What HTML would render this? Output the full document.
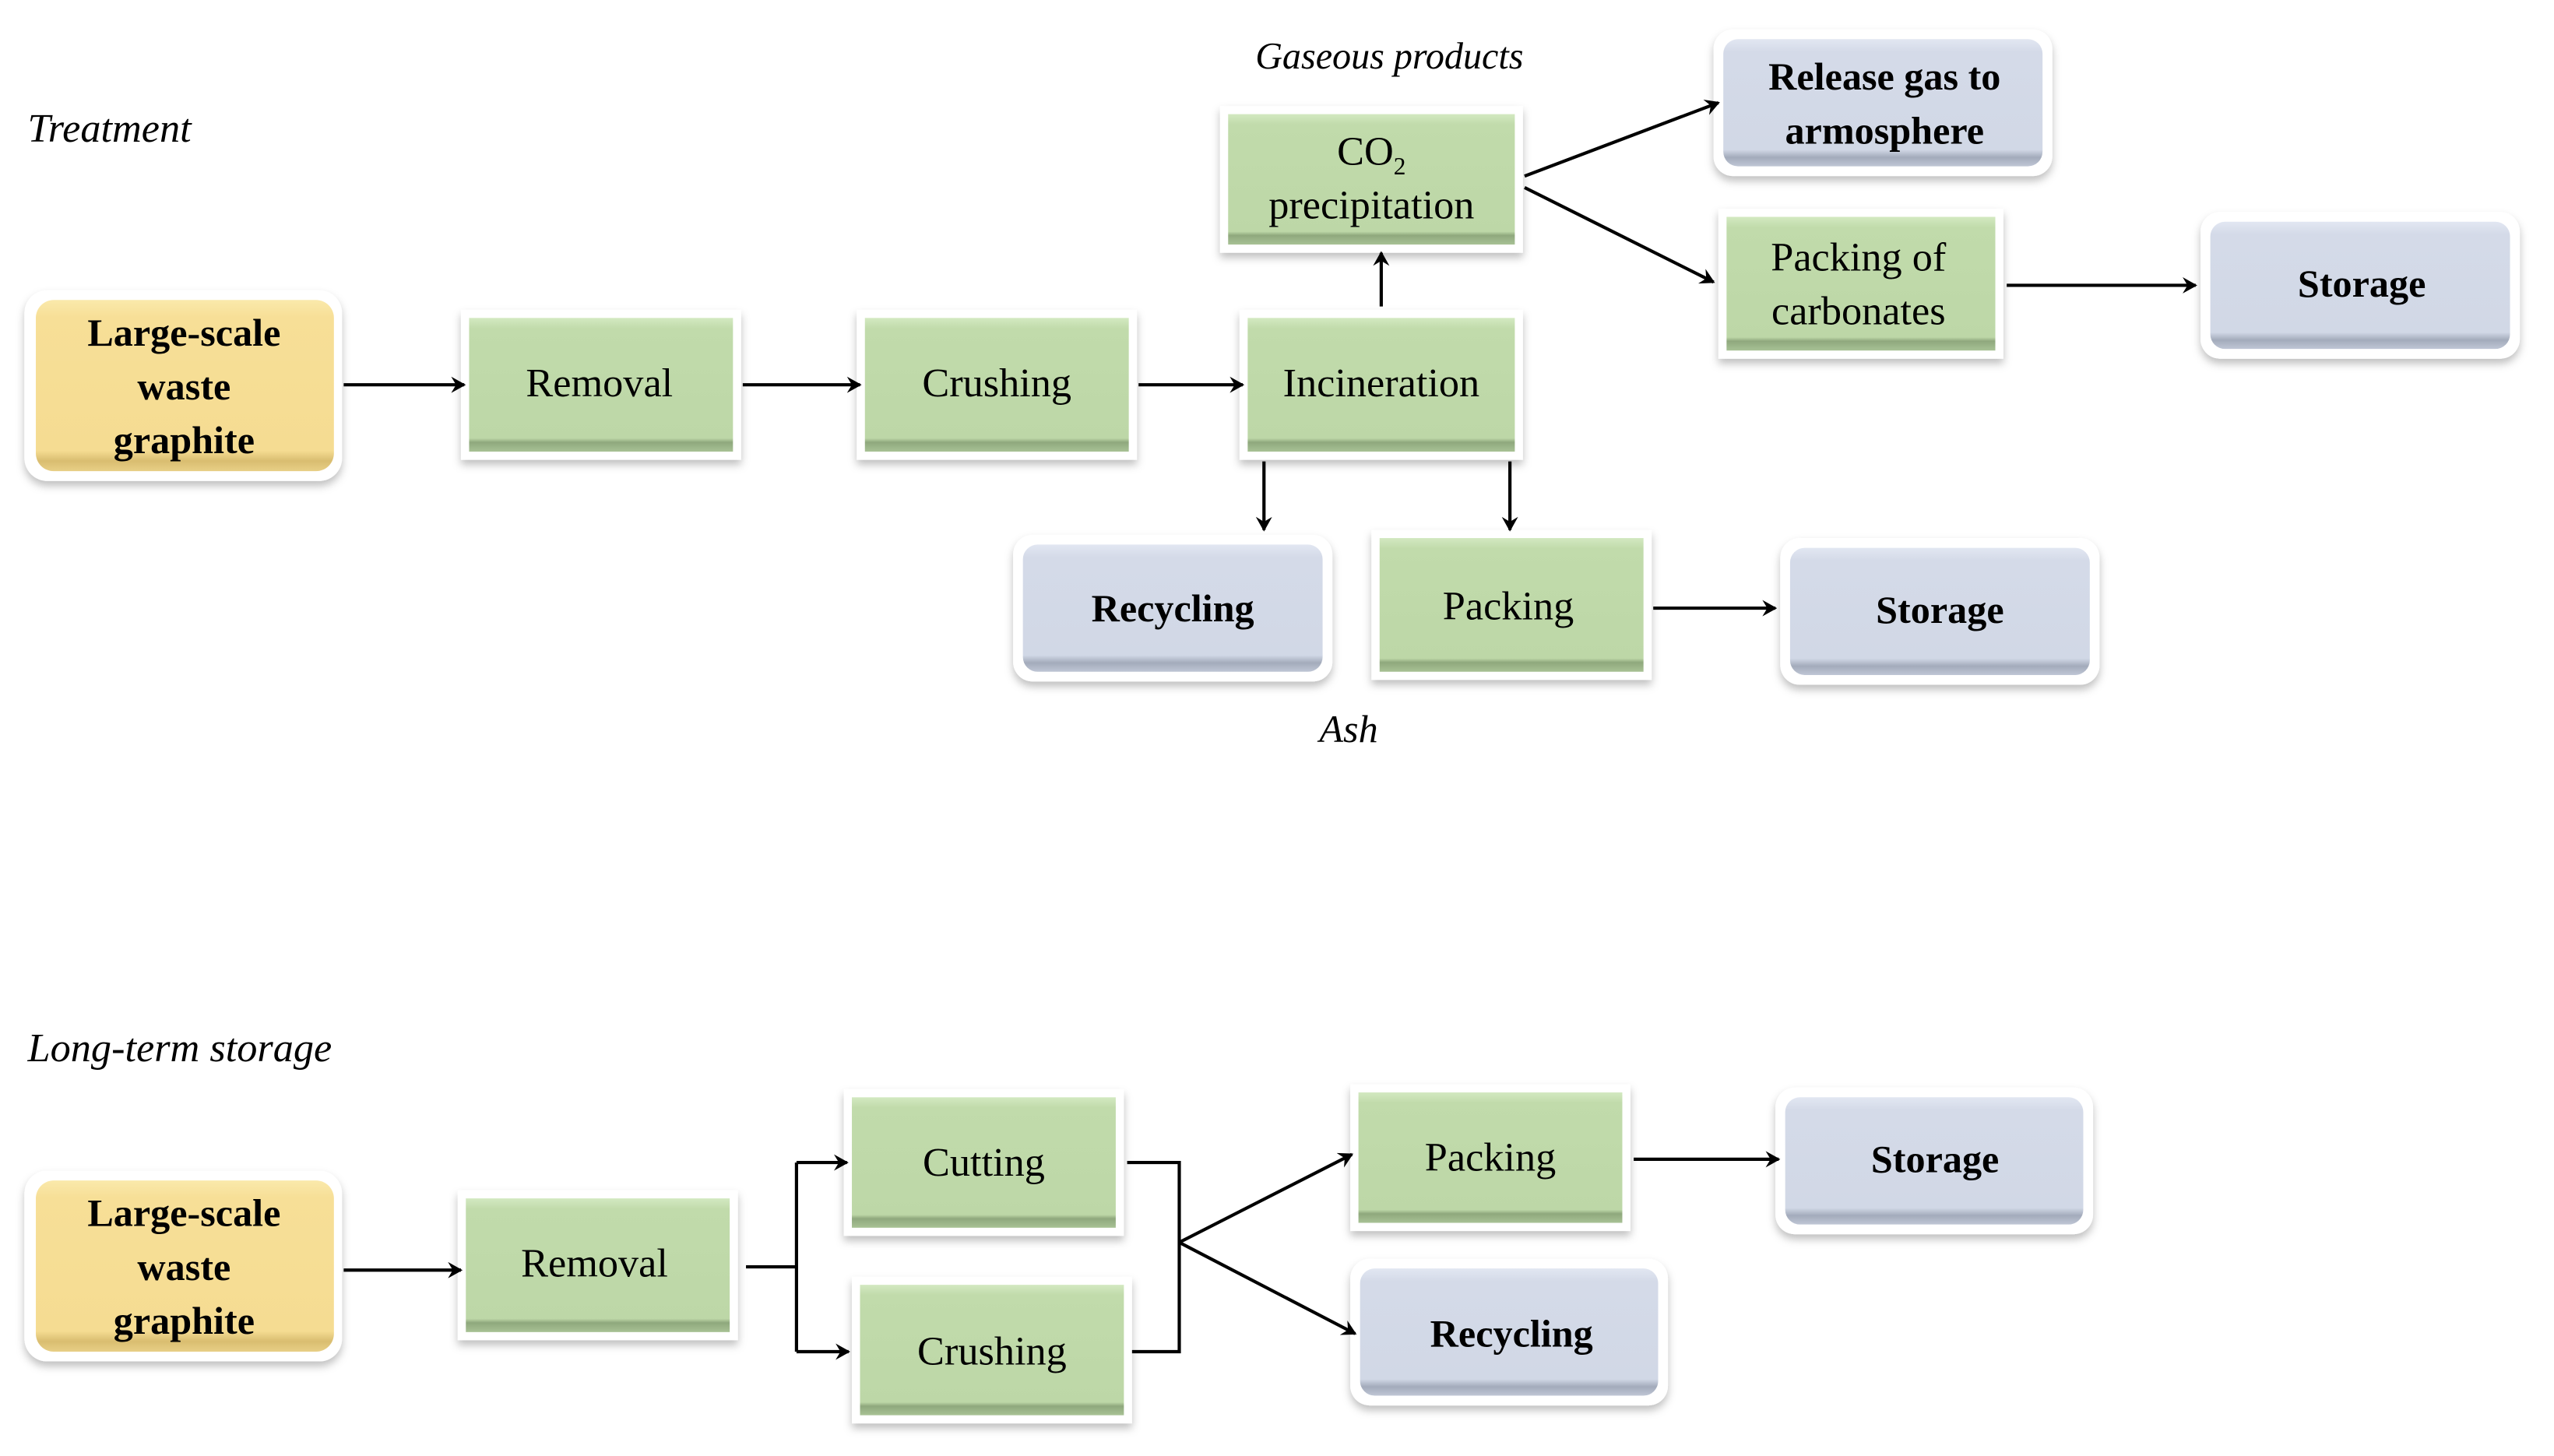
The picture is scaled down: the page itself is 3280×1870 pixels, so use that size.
<!DOCTYPE html>
<html><head><meta charset="utf-8"><style>
html,body{margin:0;padding:0;background:#fff;}
svg{display:block;}
text{font-family:"Liberation Serif",serif;}
</style></head><body>
<svg width="3280" height="1870" viewBox="0 0 1568 893" preserveAspectRatio="none" xmlns="http://www.w3.org/2000/svg">
<defs>
<linearGradient id="g" x1="0" y1="0" x2="0" y2="1"><stop offset="0" stop-color="#d3e9c1"/><stop offset="0.08" stop-color="#c1dbab"/><stop offset="0.9" stop-color="#bdd7a7"/><stop offset="0.93" stop-color="#8fa87d"/><stop offset="1" stop-color="#a8c295"/></linearGradient>
<linearGradient id="y" x1="0" y1="0" x2="0" y2="1"><stop offset="0" stop-color="#fae9ab"/><stop offset="0.1" stop-color="#f7df97"/><stop offset="0.88" stop-color="#f5dc92"/><stop offset="0.94" stop-color="#d9bd70"/><stop offset="1" stop-color="#e8cf86"/></linearGradient>
<linearGradient id="b" x1="0" y1="0" x2="0" y2="1"><stop offset="0" stop-color="#e2e7f2"/><stop offset="0.1" stop-color="#d4dae8"/><stop offset="0.87" stop-color="#d1d8e6"/><stop offset="0.93" stop-color="#a3abbb"/><stop offset="1" stop-color="#bfc6d5"/></linearGradient>
<filter id="s" x="-10%" y="-10%" width="120%" height="130%"><feDropShadow dx="0" dy="3" stdDeviation="2.5" flood-color="#000" flood-opacity="0.25"/></filter>
<marker id="a" markerWidth="10" markerHeight="10" refX="9" refY="5" orient="auto" markerUnits="userSpaceOnUse"><path d="M1,0 L10,5 L1,10 L4,5 Z" fill="#000"/></marker>
</defs>

<g font-size="25" text-anchor="middle">
<text x="17" y="87" font-style="italic" text-anchor="start" font-size="25">Treatment</text>
<text x="853" y="42" font-style="italic" font-size="23">Gaseous products</text>
<text x="828" y="455" font-style="italic" font-size="24">Ash</text>

<rect x="15" y="178" width="195" height="117" rx="14" fill="#fff" filter="url(#s)"/>
<rect x="22" y="184" width="183" height="105" rx="11" fill="url(#y)"/>
<g font-weight="bold" font-size="24"><text x="113" y="212">Large-scale</text><text x="113" y="245">waste</text><text x="113" y="278">graphite</text></g>

<rect x="283" y="190" width="172" height="92" fill="#fff" filter="url(#s)"/><rect x="288" y="195" width="162" height="82" fill="url(#g)"/>
<text x="368" y="243">Removal</text>
<rect x="526" y="190" width="172" height="92" fill="#fff" filter="url(#s)"/><rect x="531" y="195" width="162" height="82" fill="url(#g)"/>
<text x="612" y="243">Crushing</text>
<rect x="761" y="190" width="174" height="92" fill="#fff" filter="url(#s)"/><rect x="766" y="195" width="164" height="82" fill="url(#g)"/>
<text x="848" y="243">Incineration</text>
<rect x="749" y="65" width="186" height="90" fill="#fff" filter="url(#s)"/><rect x="754" y="70" width="176" height="80" fill="url(#g)"/>
<text x="842" y="101">CO<tspan font-size="15" dy="6">2</tspan></text><text x="842" y="134">precipitation</text>

<rect x="1052" y="18" width="208" height="90" rx="12" fill="#fff" filter="url(#s)"/><rect x="1058" y="24" width="196" height="78" rx="9" fill="url(#b)"/>
<g font-weight="bold" font-size="24"><text x="1157" y="55">Release gas to</text><text x="1157" y="88">armosphere</text></g>
<rect x="1055" y="128" width="175" height="92" fill="#fff" filter="url(#s)"/><rect x="1060" y="133" width="165" height="82" fill="url(#g)"/>
<text x="1141" y="166">Packing of</text><text x="1141" y="199">carbonates</text>
<rect x="1351" y="130" width="196" height="90" rx="12" fill="#fff" filter="url(#s)"/><rect x="1357" y="136" width="184" height="78" rx="9" fill="url(#b)"/>
<text x="1450" y="182" font-weight="bold" font-size="24">Storage</text>

<rect x="622" y="328" width="196" height="90" rx="12" fill="#fff" filter="url(#s)"/><rect x="628" y="334" width="184" height="78" rx="9" fill="url(#b)"/>
<text x="720" y="381" font-weight="bold" font-size="24">Recycling</text>
<rect x="842" y="325" width="172" height="92" fill="#fff" filter="url(#s)"/><rect x="847" y="330" width="162" height="82" fill="url(#g)"/>
<text x="926" y="380">Packing</text>
<rect x="1093" y="330" width="196" height="90" rx="12" fill="#fff" filter="url(#s)"/><rect x="1099" y="336" width="184" height="78" rx="9" fill="url(#b)"/>
<text x="1191" y="382" font-weight="bold" font-size="24">Storage</text>

<g stroke="#000" stroke-width="2" fill="none" marker-end="url(#a)">
<path d="M211,236 H285"/><path d="M456,236 H528"/><path d="M699,236 H763"/>
<path d="M848,188 V155"/><path d="M776,283 V325"/><path d="M927,283 V325"/>
<path d="M936,108 L1055,63"/><path d="M936,115 L1052,173"/>
<path d="M1232,175 H1348"/><path d="M1015,373 H1090"/>
</g>

<text x="17" y="651" font-style="italic" text-anchor="start" font-size="25">Long-term storage</text>
<rect x="15" y="718" width="195" height="117" rx="14" fill="#fff" filter="url(#s)"/>
<rect x="22" y="724" width="183" height="105" rx="11" fill="url(#y)"/>
<g font-weight="bold" font-size="24"><text x="113" y="752">Large-scale</text><text x="113" y="785">waste</text><text x="113" y="818">graphite</text></g>
<rect x="281" y="730" width="172" height="92" fill="#fff" filter="url(#s)"/><rect x="286" y="735" width="162" height="82" fill="url(#g)"/>
<text x="365" y="783">Removal</text>
<rect x="518" y="668" width="172" height="90" fill="#fff" filter="url(#s)"/><rect x="523" y="673" width="162" height="80" fill="url(#g)"/>
<text x="604" y="721">Cutting</text>
<rect x="523" y="783" width="172" height="90" fill="#fff" filter="url(#s)"/><rect x="528" y="788" width="162" height="80" fill="url(#g)"/>
<text x="609" y="837">Crushing</text>
<rect x="829" y="665" width="172" height="90" fill="#fff" filter="url(#s)"/><rect x="834" y="670" width="162" height="80" fill="url(#g)"/>
<text x="915" y="718">Packing</text>
<rect x="829" y="772" width="195" height="90" rx="12" fill="#fff" filter="url(#s)"/><rect x="835" y="778" width="183" height="78" rx="9" fill="url(#b)"/>
<text x="928" y="826" font-weight="bold" font-size="24">Recycling</text>
<rect x="1090" y="667" width="195" height="90" rx="12" fill="#fff" filter="url(#s)"/><rect x="1096" y="673" width="183" height="78" rx="9" fill="url(#b)"/>
<text x="1188" y="719" font-weight="bold" font-size="24">Storage</text>

<g stroke="#000" stroke-width="2" fill="none">
<path d="M458,777 H489 M489,713 V829 M692,713 H724 V829 H695"/>
</g>
<g stroke="#000" stroke-width="2" fill="none" marker-end="url(#a)">
<path d="M211,779 H283"/><path d="M489,713 H520"/><path d="M489,829 H521"/>
<path d="M724,762 L830,708"/><path d="M724,762 L832,818"/><path d="M1003,711 H1092"/>
</g>
</g>
</svg>
</body></html>
